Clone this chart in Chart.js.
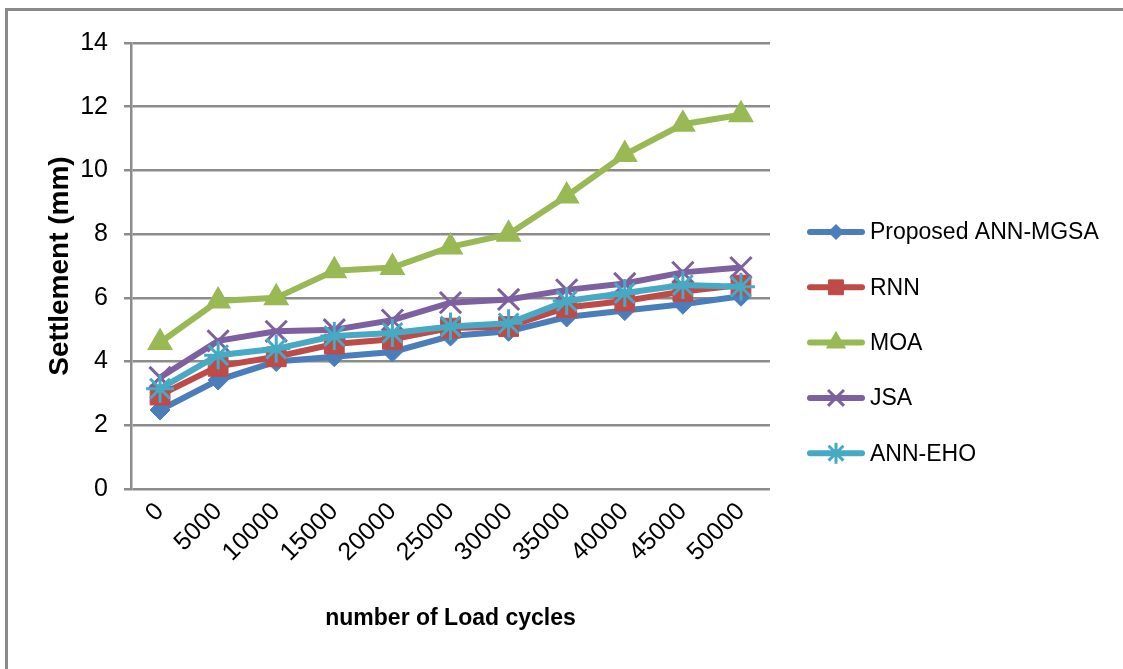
<!DOCTYPE html>
<html>
<head>
<meta charset="utf-8">
<script src="https://cdn.jsdelivr.net/npm/chart.js@4/dist/chart.umd.min.js"></script>
<style>
  html, body { margin: 0; padding: 0; background: #fff; }
  #wrap { width: 1123px; height: 669px; }
</style>
</head>
<body>
<div id="wrap"><canvas id="c" width="1123" height="669"></canvas></div>
<script>
// Settlement (mm) against number of load cycles
const loadCycles = ['0', '5000', '10000', '15000', '20000', '25000', '30000', '35000', '40000', '45000', '50000'];
const proposedAnnMgsa = [2.48, 3.42, 4.0, 4.15, 4.3, 4.8, 4.95, 5.4, 5.6, 5.8, 6.05];
const rnn             = [2.95, 3.85, 4.15, 4.55, 4.7, 5.05, 5.1, 5.7, 5.9, 6.2, 6.4];
const moa             = [4.6, 5.9, 6.0, 6.85, 6.95, 7.6, 8.0, 9.2, 10.5, 11.45, 11.75];
const jsa             = [3.5, 4.65, 4.95, 5.0, 5.3, 5.85, 5.95, 6.25, 6.45, 6.8, 6.95];
const annEho          = [3.15, 4.2, 4.4, 4.8, 4.9, 5.1, 5.2, 5.9, 6.15, 6.4, 6.35];
const yTicks = [0, 2, 4, 6, 8, 10, 12, 14];

const FONT = '"Liberation Sans", Arial, sans-serif';
const GRID = '#8c8c8c';

function series(label, data, color, style, radius, bw) {
  return {
    label, data,
    borderColor: color,
    backgroundColor: color,
    borderWidth: 6,
    pointStyle: style,
    pointRadius: radius,
    pointBorderWidth: bw,
    pointBackgroundColor: color,
    pointBorderColor: color,
    tension: 0,
    fill: false
  };
}

const datasets = [
  series('Proposed ANN-MGSA', proposedAnnMgsa, '#4A7EBB', 'rectRot', 10, 1),
  series('RNN', rnn, '#BE4B48', 'rect', 14, 1),
  series('MOA', moa, '#98B954', 'triangle', 13, 2),
  series('JSA', jsa, '#7D60A0', 'crossRot', 15, 3),
  series('ANN-EHO', annEho, '#46AAC5', 'star', 14, 3)
];
// later series sit on top of earlier ones
datasets.forEach((d, i) => { d.order = datasets.length - i; });

// white page with the grey frame along the top and left edges
const framePlugin = {
  id: 'frame',
  beforeDraw(chart) {
    const ctx = chart.ctx;
    ctx.save();
    ctx.fillStyle = '#fff';
    ctx.fillRect(0, 0, chart.width, chart.height);
    ctx.strokeStyle = '#8a8a8a';
    ctx.lineWidth = 3;
    ctx.strokeRect(6.5, 9.5, chart.width + 20, chart.height + 20);
    ctx.restore();
  }
};

// legend on the right: line sample with marker, then the series name
const sideLegend = {
  id: 'sideLegend',
  afterDraw(chart) {
    const ctx = chart.ctx;
    const x0 = 810, x1 = 862, textX = 870;
    const top = 232, step = 55.3;
    chart.data.datasets.forEach((ds, i) => {
      const y = top + i * step;
      ctx.save();
      ctx.strokeStyle = ds.borderColor;
      ctx.lineWidth = 6;
      ctx.lineCap = 'round';
      ctx.beginPath();
      ctx.moveTo(x0, y);
      ctx.lineTo(x1, y);
      ctx.stroke();
      ctx.fillStyle = ds.pointBackgroundColor;
      ctx.strokeStyle = ds.pointBorderColor;
      ctx.lineWidth = ds.pointBorderWidth;
      ctx.lineCap = 'butt';
      Chart.helpers.drawPoint(ctx, {
        pointStyle: ds.pointStyle,
        radius: ds.pointRadius * 0.75,
        borderWidth: ds.pointBorderWidth,
        rotation: 0
      }, (x0 + x1) / 2, y);
      ctx.fillStyle = '#000';
      ctx.font = '23px ' + FONT;
      ctx.textBaseline = 'middle';
      ctx.textAlign = 'left';
      ctx.fillText(ds.label, textX, y + 1);
      ctx.restore();
    });
  }
};

new Chart(document.getElementById('c'), {
  type: 'line',
  data: { labels: loadCycles, datasets },
  plugins: [framePlugin, sideLegend],
  options: {
    responsive: false,
    animation: false,
    devicePixelRatio: 1,
    layout: { padding: { top: 43, right: 353, bottom: 0, left: 0 } },
    plugins: { legend: { display: false }, tooltip: { enabled: false } },
    scales: {
      x: {
        type: 'category',
        offset: true,
        grid: { display: false, drawTicks: false },
        border: { display: false },
        ticks: {
          autoSkip: false, minRotation: 45, maxRotation: 45,
          padding: 8, color: '#000',
          font: { family: FONT, size: 25 }
        },
        title: {
          display: true, text: 'number of Load cycles', color: '#000',
          font: { family: FONT, size: 23, weight: 'bold' },
          padding: { top: 0, bottom: 37 }
        },
        afterFit(scale) { scale.height = 180; }
      },
      y: {
        min: 0, max: 14,
        afterBuildTicks(scale) { scale.ticks = yTicks.map(v => ({ value: v })); },
        grid: { color: GRID, lineWidth: 2.5, tickLength: 7, drawTicks: true },
        border: { display: true, color: GRID, width: 2.5 },
        ticks: { padding: 16, color: '#000', font: { family: FONT, size: 25 } },
        title: {
          display: true, text: 'Settlement (mm)', color: '#000',
          font: { family: FONT, size: 28, weight: 'bold' },
          padding: { top: 43, bottom: 0 }
        },
        afterFit(scale) { scale.width = 131; }
      }
    }
  }
});
</script>
</body>
</html>
